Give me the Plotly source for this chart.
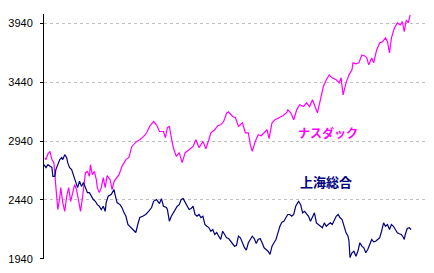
import plotly.graph_objects as go

# trading-day index and closing values, NASDAQ
nasdaq_day = [1, 2, 4, 6, 8, 10, 12, 13, 14, 16, 17, 19, 21, 23, 25, 27, 29, 31, 33, 35, 37, 39, 41, 42, 44, 46, 47, 49, 51, 53, 54, 56, 58, 60, 62,
              64, 67, 69, 71, 76, 79, 83, 86, 89, 94, 97, 101, 104, 107, 111, 114, 117, 121, 123, 125, 127, 129, 131, 134, 137, 140, 143, 147, 151,
              154, 157, 161, 164, 167, 169, 173, 176, 179, 182, 185, 187, 191, 194, 197, 201, 204, 207, 209, 211, 214, 217, 220, 223, 226, 228, 231,
              234, 238, 242, 246, 247, 250, 253, 256, 259, 263, 266, 269, 272, 275, 277, 280, 283, 286, 289, 292, 296, 299, 301, 303, 306, 309, 312,
              313, 316, 319, 322, 325, 327, 329, 332, 334, 337, 340, 343, 346, 348, 350, 352, 355, 358, 361, 363, 365, 367, 369, 371]
nasdaq_val = [2798, 2782, 2832, 2852, 2782, 2756, 2555, 2443, 2358, 2460, 2544, 2417, 2343, 2471, 2544, 2428, 2502, 2570, 2527, 2428, 2343,
              2460, 2612, 2671, 2682, 2640, 2739, 2654, 2682, 2612, 2544, 2502, 2544, 2629, 2544,
              2646, 2612, 2527, 2598, 2654, 2725, 2782, 2801, 2894, 2937, 2951, 2979, 3010, 3064, 3106, 3078, 3021, 3021, 2968, 3053, 3064, 2968,
              2883, 2810, 2841, 2756, 2841, 2866, 2894, 2951, 2883, 2937, 2875, 2951, 3010, 3036, 3070, 3078, 3106, 3177, 3188, 3149, 3138, 3064,
              3095, 3010, 3010, 2909, 2852, 2937, 2994, 2985, 3010, 3036, 2960, 3095, 3121, 3138, 3155, 3183, 3205, 3180, 3121, 3205, 3248, 3233,
              3265, 3233, 3290, 3222, 3180, 3290, 3403, 3460, 3502, 3477, 3460, 3434, 3477, 3332, 3434, 3502, 3544, 3604, 3595, 3604, 3671, 3663,
              3646, 3587, 3646, 3604, 3714, 3773, 3784, 3816, 3784, 3688, 3816, 3900, 3943, 3926, 3954, 3869, 3968, 3943, 4011]

# trading-day index and closing values, Shanghai Composite
shanghai_day = [0, 2, 4, 6, 8, 9, 11, 12, 14, 16, 18, 19, 21, 23, 24, 26, 28, 30, 32, 34, 36, 38, 40, 42, 44, 46, 48, 50, 52, 54, 56, 58, 60, 62,
                63, 65, 68, 71, 72, 74, 77, 79, 81, 83, 85, 88, 91, 93, 95, 97, 100, 103, 106, 109, 111, 114, 117, 119, 121, 124, 125, 127, 129, 131,
                133, 135, 137, 139, 141, 143, 145, 147, 149, 151, 153, 155, 157, 159, 161, 163, 165, 167, 169, 171, 173, 175, 177, 179, 181, 183, 185,
                187, 189, 191, 193, 195, 197, 199, 201, 203, 205, 207, 209, 211, 213, 215, 217, 219, 221, 223, 225, 227, 229, 231, 233, 235, 237, 239,
                241, 243, 245, 247, 249, 251, 253, 255, 257, 258, 260, 262, 264, 266, 268, 270, 272, 274, 276, 278, 280, 282, 284, 286, 288, 290, 292,
                294, 296, 298, 300, 302, 304, 306, 308, 309, 310, 312, 314, 316, 318, 320, 322, 324, 326, 328, 330, 332, 334, 336, 338, 340, 342, 344,
                346, 348, 350, 352, 354, 356, 358, 360, 362, 364, 365, 366, 368, 370, 372]
shanghai_val = [2739, 2714, 2739, 2725, 2714, 2640, 2640, 2697, 2739, 2782, 2799, 2782, 2824, 2799, 2756, 2714, 2697, 2640, 2587, 2544, 2598,
                2555, 2587, 2544, 2502, 2502, 2471, 2443, 2428, 2400, 2386, 2358, 2386, 2343,
                2417, 2471, 2485, 2527, 2485, 2417, 2400, 2375, 2332, 2301, 2231, 2205, 2188, 2163, 2231, 2290, 2301, 2316, 2343, 2375, 2428, 2443,
                2409, 2451, 2386, 2375, 2358, 2259, 2301, 2332, 2358, 2386, 2400, 2443, 2451, 2417, 2386, 2358, 2366, 2386, 2316, 2301, 2316, 2290,
                2301, 2231, 2216, 2205, 2174, 2188, 2146, 2163, 2132, 2104, 2174, 2146, 2118, 2112, 2089, 2061, 2047, 2053, 2132, 2118, 2076, 2036,
                2013, 2076, 2104, 2132, 2112, 2070, 2104, 2112, 2076, 2033, 2019, 2004, 1977, 2047, 2076, 2104, 2160, 2216, 2250, 2259, 2288, 2316,
                2316, 2301, 2316, 2386, 2415, 2428, 2400, 2330, 2343, 2324, 2301, 2259, 2301, 2330, 2245, 2231, 2216, 2203, 2245, 2216, 2231, 2245,
                2231, 2273, 2301, 2316, 2288, 2273, 2216, 2160, 2132, 2089, 1950, 1991, 2004, 1962, 2004, 2076, 2047, 2033, 1991, 2019, 2061, 2104,
                2084, 2089, 2104, 2118, 2174, 2245, 2216, 2231, 2188, 2231, 2216, 2188, 2160, 2152, 2146, 2123, 2104, 2146, 2197, 2203, 2188]

tick_vals = [1940, 2440, 2940, 3440, 3940]
tick_text = ["1940", "2440", "2940", "3440", "3940"]
series_labels = ["ナスダック", "上海総合"]

fig = go.Figure()
fig.add_trace(go.Scatter(x=nasdaq_day, y=nasdaq_val, mode="lines",
                         line=dict(color="#FF00FF", width=1.2), name=series_labels[0]))
fig.add_trace(go.Scatter(x=shanghai_day, y=shanghai_val, mode="lines",
                         line=dict(color="#000080", width=1.2), name=series_labels[1]))

fig.add_annotation(text="<b>" + series_labels[0] + "</b>", xref="paper", yref="paper",
                   x=0.744, y=0.517, xanchor="center", yanchor="middle", showarrow=False,
                   font=dict(color="#FF00FF", size=12, family="Noto Sans CJK JP"))
fig.add_annotation(text="<b>" + series_labels[1] + "</b>", xref="paper", yref="paper",
                   x=0.739, y=0.317, xanchor="center", yanchor="middle", showarrow=False,
                   font=dict(color="#000080", size=13, family="Noto Sans CJK JP"))

fig.update_layout(
    width=434, height=273,
    margin=dict(l=39, r=8, t=14, b=14),
    paper_bgcolor="white", plot_bgcolor="white",
    showlegend=False,
    font=dict(family="Liberation Sans, Arial", size=11, color="black"),
)
fig.update_xaxes(range=[0, 387], showgrid=False, showticklabels=False,
                 zeroline=False, showline=False, ticks="")
fig.update_yaxes(range=[1938, 4019], tickvals=tick_vals, ticktext=tick_text,
                 showline=True, linecolor="black", linewidth=1,
                 ticks="outside", ticklen=3, tickcolor="black", tickwidth=1,
                 showgrid=True, gridcolor="#c0c0c0", griddash="3px,3px", gridwidth=1,
                 zeroline=False, ticklabelstandoff=5,
                 tickfont=dict(family="Liberation Sans, Arial", size=11, color="black"))

fig.write_html("out.html")
